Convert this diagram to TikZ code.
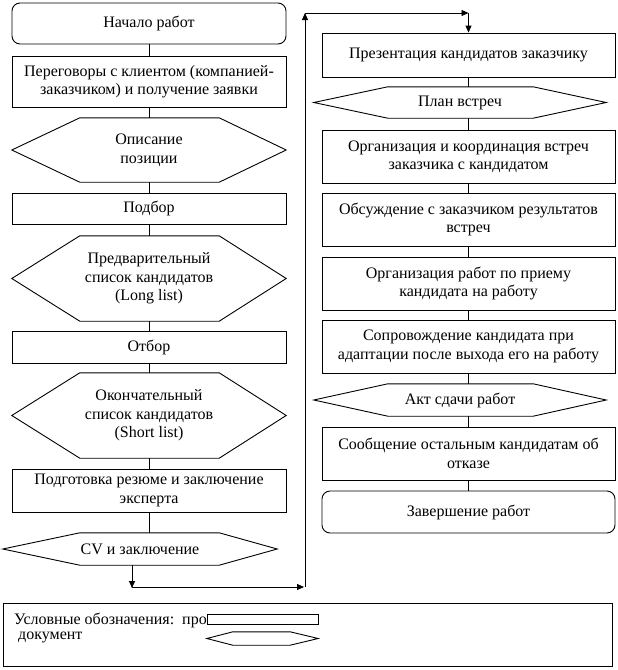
\documentclass[tikz,border=0pt]{standalone}
\usepackage{fontspec}
\setmainfont{Liberation Serif}
\usetikzlibrary{arrows.meta}
\newcommand\fs{\fontsize{16}{18.5}\selectfont}
\tikzset{
  ln/.style={line width=0.9pt, black},
  arr/.style={ln, -{Triangle[length=7pt,width=6pt]}},
  lbox/.style={draw, ln, rectangle, minimum width=274pt, align=center, inner sep=0pt, font=\fs},
  rbox/.style={draw, ln, rectangle, minimum width=293pt, align=center, inner sep=0pt, font=\fs},
  rnd/.style={rounded corners=8pt},
  hexn/.style={rectangle, align=center, inner sep=0pt, font=\fs},
}
\newcommand\hexdraw[3]{\draw[ln] (#1.west) -- ([xshift=#2]#1.north west) -- ([xshift=-#3]#1.north east) -- (#1.east) -- ([xshift=-#3]#1.south east) -- ([xshift=#2]#1.south west) -- cycle;}
\begin{document}
\begin{tikzpicture}[x=1pt,y=-1pt]
\useasboundingbox (0,0) rectangle (618,670);
% left column
\node[lbox,rnd,minimum height=41pt] (start) at (149,23.5) {Начало работ};
\node[lbox,minimum height=51pt] (b1) at (149,81.5) {Переговоры с клиентом (компанией-\\заказчиком) и получение заявки};
\node[hexn,minimum width=274pt,minimum height=64pt] (h1) at (149,150) {Описание\\позиции};
\hexdraw{h1}{68pt}{67pt}
\node[lbox,minimum height=31pt] (b2) at (149,208.5) {Подбор};
\node[hexn,minimum width=274pt,minimum height=85pt] (h2) at (149,278.5) {Предварительный\\список кандидатов\\(Long list)};
\hexdraw{h2}{68pt}{67pt}
\node[lbox,minimum height=32pt] (b3) at (149,347) {Отбор};
\node[hexn,minimum width=274pt,minimum height=85pt] (h3) at (149,415.5) {Окончательный\\список кандидатов\\(Short list)};
\hexdraw{h3}{68pt}{67pt}
\node[lbox,minimum height=43pt] (b4) at (149,490.5) {Подготовка резюме и заключение\\эксперта};
\node[hexn,minimum width=274pt,minimum height=32pt] (cv) at (140,549) {CV и заключение};
\hexdraw{cv}{77pt}{58pt}
\foreach \a/\b in {start/b1,b1/h1,h1/b2,b2/h2,h2/b3,b3/h3,h3/b4}{\draw[ln] (\a) -- (\b);}
\draw[ln] (b4.south) -- (b4.south |- cv.north);
% connector to right column
\coordinate (c1) at (132,587);
\coordinate (c2) at (305,587);
\coordinate (c3) at (305,13);
\coordinate (c4) at (468.5,13);
\draw[arr] (cv.south -| c1) -- ([yshift=-1pt]c1);
\draw[arr] (c1) -- ([xshift=-1pt]c2);
\draw[arr] (c2) -- (c3);
\draw[arr] (c3) -- (c4);
% right column
\node[rbox,minimum height=44pt] (r1) at (468.5,55) {Презентация кандидатов заказчику};
\draw[arr] (c4) -- (r1.north);
\node[hexn,minimum width=292pt,minimum height=31pt] (rh1) at (460,102.5) {План встреч};
\hexdraw{rh1}{74pt}{73pt}
\node[rbox,minimum height=53pt] (r2) at (468.5,156.5) {Организация и координация встреч\\заказчика с кандидатом};
\node[rbox,minimum height=53pt] (r3) at (468.5,219.5) {Обсуждение с заказчиком результатов\\встреч};
\node[rbox,minimum height=53pt] (r4) at (468.5,283.5) {Организация работ по приему\\кандидата на работу};
\node[rbox,minimum height=53pt] (r5) at (468.5,346.5) {Сопровождение кандидата при\\адаптации после выхода его на работу};
\node[hexn,minimum width=292pt,minimum height=32pt] (rh2) at (460,400) {Акт сдачи работ};
\hexdraw{rh2}{74pt}{73pt}
\node[rbox,minimum height=53pt] (r6) at (468.5,453.5) {Сообщение остальным кандидатам об\\отказе};
\node[rbox,rnd,minimum height=42pt] (r7) at (468.5,512) {Завершение работ};
\draw[ln] (r1.south) -- (r1.south |- rh1.north);
\draw[ln] (r2.north |- rh1.south) -- (r2.north);
\foreach \a/\b in {r2/r3,r3/r4,r4/r5,r6/r7}{\draw[ln] (\a) -- (\b);}
\draw[ln] (r5.south) -- (r5.south |- rh2.north);
\draw[ln] (r6.north |- rh2.south) -- (r6.north);
% legend
\node[draw,ln,rectangle,minimum width=609pt,minimum height=63pt,inner sep=0pt] (leg) at (307.5,634.5) {};
\node[anchor=west,inner sep=0pt,font=\fs] (lt1) at (14,620) {Условные обозначения:\ \ про};
\node[anchor=west,inner sep=0pt,font=\fs] (lt2) at (18,637) {документ};
\node[draw,ln,fill=white,rectangle,minimum width=111pt,minimum height=10pt,inner sep=0pt] (lr) at (262.5,619) {};
\node[hexn,minimum width=111pt,minimum height=13pt] (lh) at (262.5,638.5) {};
\hexdraw{lh}{26pt}{28pt}
\end{tikzpicture}
\end{document}
